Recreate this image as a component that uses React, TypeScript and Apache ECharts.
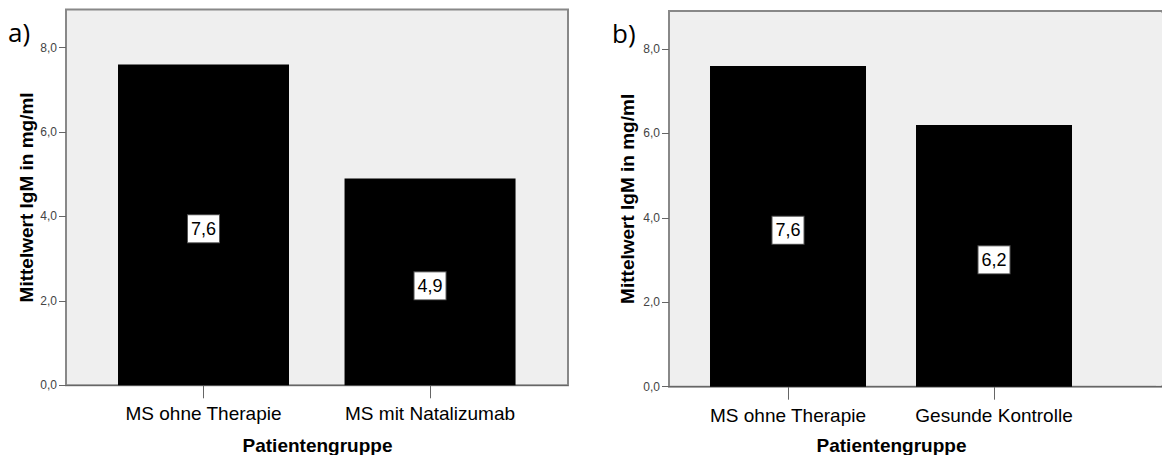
import React, { useEffect, useRef } from "react";
import * as echarts from "echarts";

// ---- data ----
const yTicks = [0, 2, 4, 6, 8];
const categoriesA = ["MS ohne Therapie", "MS mit Natalizumab"];
const valuesA = [7.6, 4.9];
const categoriesB = ["MS ohne Therapie", "Gesunde Kontrolle"];
const valuesB = [7.6, 6.2];
const panelLabels = ["a)", "b)"];
const yTitle = "Mittelwert IgM in mg/ml";
const xTitle = "Patientengruppe";

const FONT = "'Liberation Sans', Arial, sans-serif";
const fmt = (v: number) => v.toFixed(1).replace(".", ",");

export default function App() {
  const ref = useRef<HTMLDivElement>(null);

  useEffect(() => {
    if (!ref.current) return;
    const chart = echarts.init(ref.current, undefined, { renderer: "svg" });

    const catPositions = categoriesA.map((_, i) => i + 1);

    const makeX = (gridIndex: number, cats: string[], min: number, max: number) => ({
      type: "value",
      gridIndex,
      min,
      max,
      splitLine: { show: false },
      axisLine: { show: true, onZero: false, lineStyle: { color: "#666", width: 1 } },
      axisTick: {
        show: true,
        length: 13,
        customValues: catPositions,
        lineStyle: { color: "#666", width: 1 },
      },
      axisLabel: {
        show: true,
        customValues: catPositions,
        margin: 19,
        color: "#000",
        fontSize: 19,
        fontFamily: FONT,
        formatter: (v: number) => cats[Math.round(v) - 1] ?? "",
      },
    });

    const makeY = (gridIndex: number, nameGap: number) => ({
      type: "value",
      gridIndex,
      min: 0,
      max: 8.9,
      name: yTitle,
      nameLocation: "middle",
      nameGap,
      nameTextStyle: { fontSize: 19, fontWeight: "bold", color: "#000", fontFamily: FONT },
      splitLine: { show: false },
      axisLine: { show: false },
      axisTick: {
        show: true,
        length: 7,
        customValues: yTicks,
        lineStyle: { color: "#666", width: 1 },
      },
      axisLabel: {
        show: true,
        customValues: yTicks,
        margin: 9,
        color: "#444",
        fontSize: 12,
        fontFamily: FONT,
        formatter: (v: number) => fmt(v),
      },
    });

    const barLabel = {
      show: true,
      position: "inside",
      offset: [0, 4],
      formatter: (p: any) => fmt(p.value[1]),
      color: "#000",
      fontSize: 18,
      fontFamily: FONT,
      lineHeight: 20,
      backgroundColor: "#fff",
      borderColor: "#555",
      borderWidth: 1,
      padding: [4, 3, 3, 3],
    };

    const titleText = (x: number) => ({
      type: "text",
      x,
      y: 445,
      style: {
        text: xTitle,
        fontSize: 19,
        fontWeight: "bold",
        fontFamily: FONT,
        fill: "#000",
        align: "center",
        verticalAlign: "middle",
      },
    });

    const option: any = {
      animation: false,
      grid: [
        {
          left: 66,
          top: 9.5,
          width: 502,
          height: 375.8,
          show: true,
          backgroundColor: "#efefef",
          borderColor: "#888",
          borderWidth: 2,
        },
        {
          left: 669,
          top: 11,
          width: 493,
          height: 375.7,
          show: true,
          backgroundColor: "#efefef",
          borderColor: "#888",
          borderWidth: 2,
        },
      ],
      xAxis: [makeX(0, categoriesA, 0.393, 2.609), makeX(1, categoriesB, 0.4223, 2.8155)],
      yAxis: [makeY(0, 24), makeY(1, 32)],
      series: [
        {
          type: "bar",
          xAxisIndex: 0,
          yAxisIndex: 0,
          barWidth: 171,
          itemStyle: { color: "#000" },
          label: barLabel,
          data: valuesA.map((v, i) => [i + 1, v]),
        },
        {
          type: "bar",
          xAxisIndex: 1,
          yAxisIndex: 1,
          barWidth: 156,
          itemStyle: { color: "#000" },
          label: barLabel,
          data: valuesB.map((v, i) => [i + 1, v]),
        },
      ],
      graphic: [
        {
          type: "rect",
          z: 100,
          shape: { x: 1156, y: 12.5, width: 10, height: 373 },
          style: { fill: "#efefef" },
        },
        {
          type: "text",
          left: 8,
          top: 19,
          style: { text: panelLabels[0], fontSize: 26, fontFamily: "'Open Sans', Lato, sans-serif", fill: "#000" },
        },
        {
          type: "text",
          left: 612,
          top: 20,
          style: { text: panelLabels[1], fontSize: 26, fontFamily: "'Open Sans', Lato, sans-serif", fill: "#000" },
        },
        titleText(317.5),
        titleText(891.5),
      ],
    };

    chart.setOption(option);
    return () => chart.dispose();
  }, []);

  return (
    <div
      ref={ref}
      style={{ position: "fixed", left: 0, top: 0, width: 1162, height: 455, background: "#fff", overflow: "hidden" }}
    />
  );
}
